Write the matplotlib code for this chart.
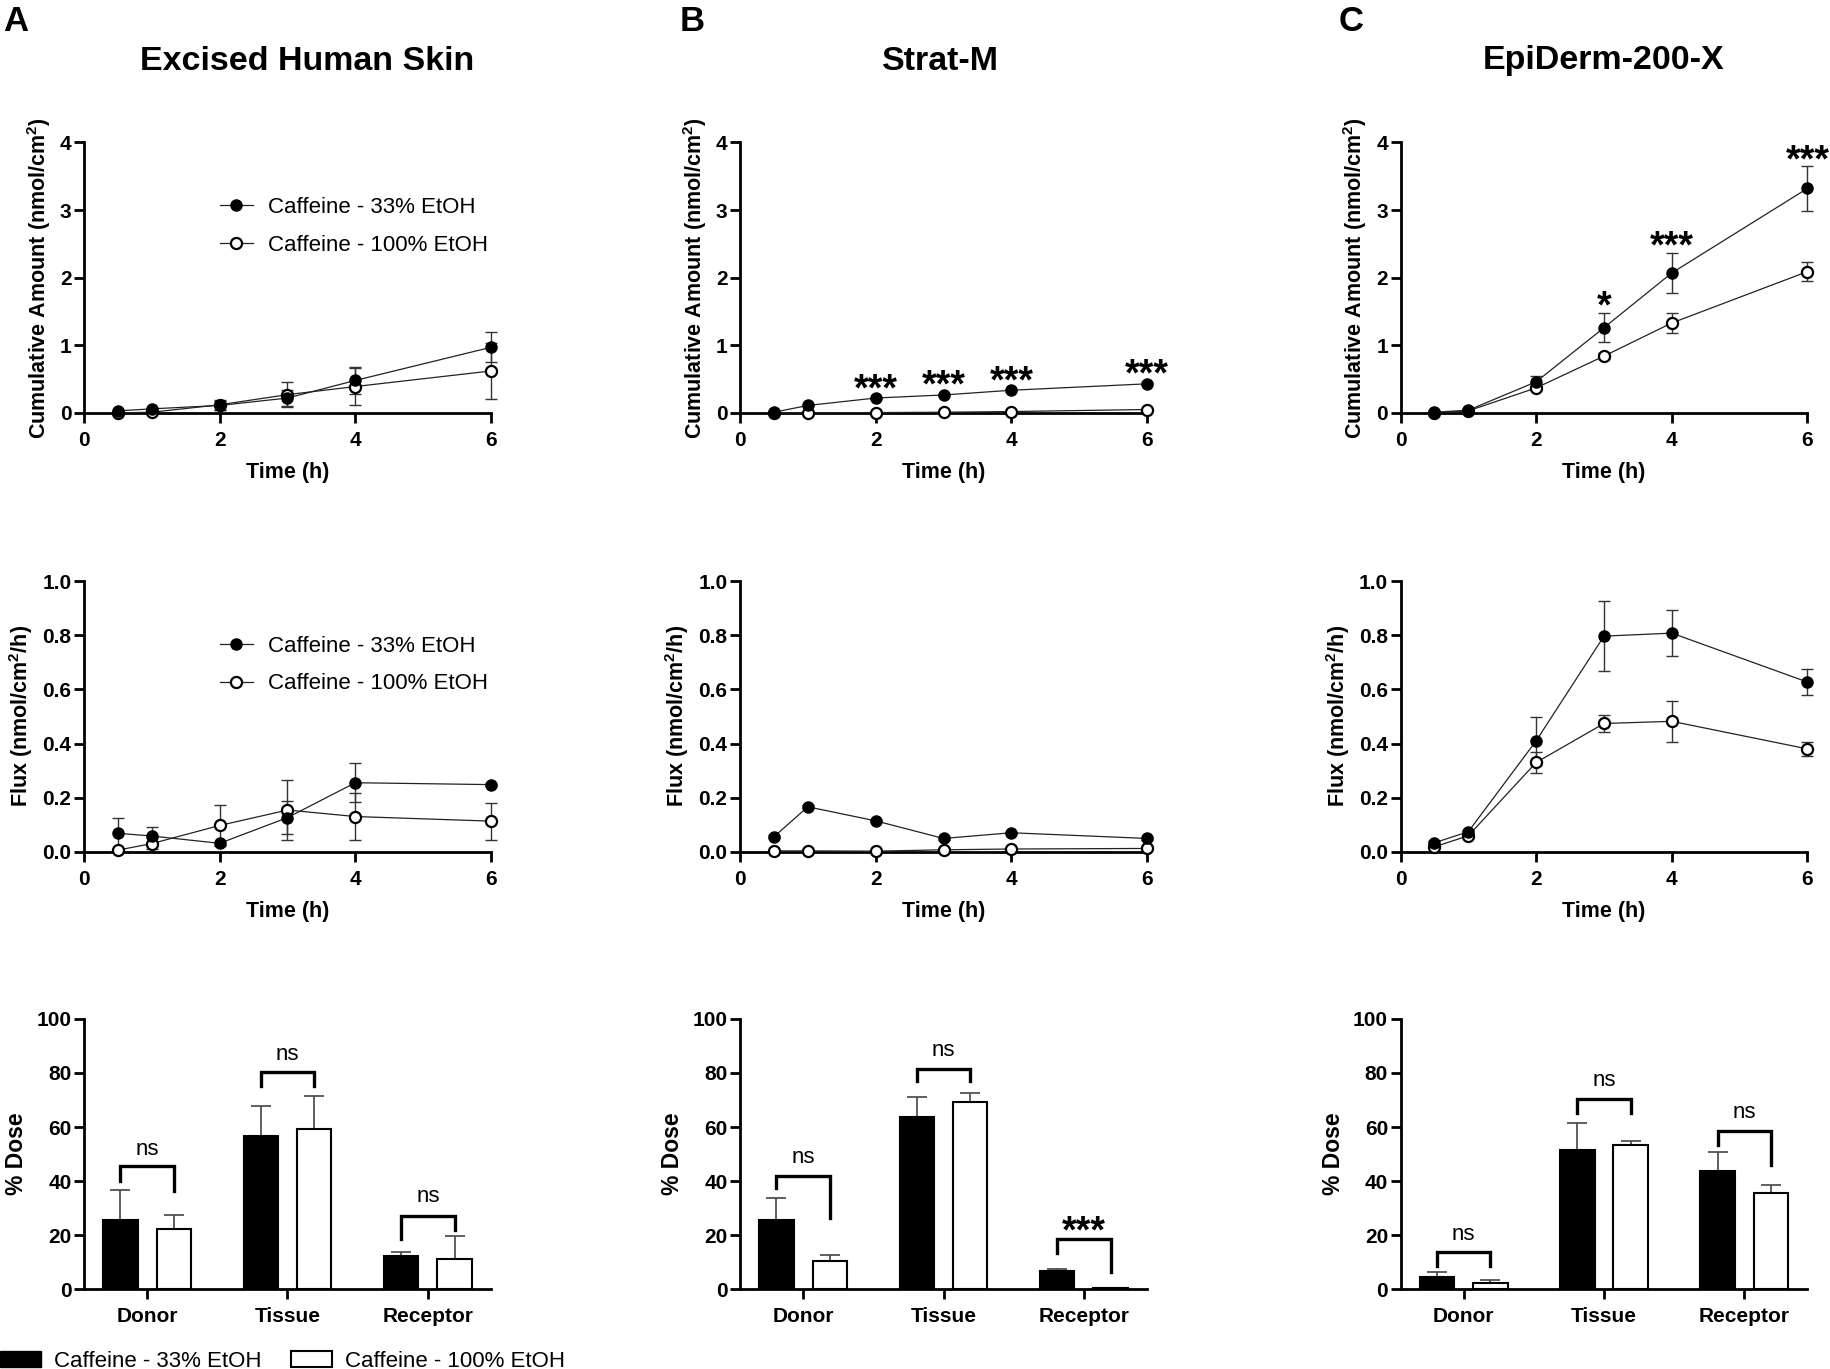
import matplotlib
matplotlib.use("Agg")
import matplotlib.pyplot as plt
from matplotlib.patches import Patch
from matplotlib.lines import Line2D

plt.rcParams['font.family'] = ['Liberation Sans', 'DejaVu Sans']
plt.rcParams['mathtext.fontset'] = 'custom'
plt.rcParams['mathtext.rm'] = 'Liberation Sans:bold'
plt.rcParams['mathtext.bf'] = 'Liberation Sans:bold'

# Data
time = [0.5, 1, 2, 3, 4, 6]
groups = ["Donor", "Tissue", "Receptor"]
label_33 = "Caffeine - 33% EtOH"
label_100 = "Caffeine - 100% EtOH"

# A - Excised Human Skin
a_cum_33 = [0.03, 0.06, 0.11, 0.22, 0.48, 0.97]
a_cum_33_err = [0.01, 0.01, 0.06, 0.12, 0.20, 0.22]
a_cum_100 = [0.0, 0.01, 0.12, 0.27, 0.39, 0.62]
a_cum_100_err = [0.01, 0.01, 0.07, 0.19, 0.27, 0.42]
a_flux_33 = [0.068, 0.058, 0.031, 0.126, 0.255, 0.248]
a_flux_33_err = [0.057, 0.032, 0.005, 0.06, 0.073, 0.005]
a_flux_100 = [0.006, 0.03, 0.097, 0.154, 0.13, 0.113]
a_flux_100_err = [0.005, 0.02, 0.076, 0.11, 0.087, 0.068]
a_dose_33 = [25.6, 56.6, 12.4]
a_dose_33_err = [11.1, 11.1, 1.5]
a_dose_100 = [22.4, 59.3, 11.3]
a_dose_100_err = [5.0, 12.3, 8.5]
# bracket: top, left leg end, right leg end, label y, label
a_brackets = [(45.5, 40, 36.3, 52, "ns"), (80.2, 75.3, 75.3, 87, "ns"), (27, 18.8, 22, 34.4, "ns")]
a_stars = []

# B - Strat-M
b_cum_33 = [0.01, 0.11, 0.22, 0.265, 0.335, 0.43]
b_cum_33_err = [0.005, 0.01, 0.02, 0.015, 0.02, 0.02]
b_cum_100 = [0.0, 0.0, 0.005, 0.01, 0.02, 0.05]
b_cum_100_err = [0.002, 0.002, 0.003, 0.003, 0.004, 0.005]
b_flux_33 = [0.055, 0.166, 0.114, 0.049, 0.07, 0.049]
b_flux_33_err = [0.005, 0.005, 0.005, 0.004, 0.004, 0.004]
b_flux_100 = [0.003, 0.003, 0.002, 0.007, 0.01, 0.012]
b_flux_100_err = [0.002, 0.002, 0.002, 0.002, 0.003, 0.003]
b_dose_33 = [25.6, 63.6, 6.8]
b_dose_33_err = [8.2, 7.5, 0.6]
b_dose_100 = [10.5, 69.3, 0.4]
b_dose_100_err = [2.4, 3.3, 0.1]
b_brackets = [(42, 37.5, 26.4, 48.8, "ns"), (81.4, 76.9, 76.9, 88.6, "ns"), (18.5, 13.5, 6.5, 25.2, "***")]
b_stars = [(2, 0.50, "***"), (3, 0.56, "***"), (4, 0.63, "***"), (6, 0.72, "***")]

# C - EpiDerm-200-X
c_cum_33 = [0.01, 0.04, 0.46, 1.26, 2.07, 3.32]
c_cum_33_err = [0.01, 0.02, 0.08, 0.21, 0.30, 0.33]
c_cum_100 = [0.0, 0.03, 0.37, 0.84, 1.33, 2.09]
c_cum_100_err = [0.005, 0.01, 0.03, 0.04, 0.15, 0.14]
c_flux_33 = [0.033, 0.074, 0.41, 0.797, 0.808, 0.627]
c_flux_33_err = [0.005, 0.008, 0.088, 0.13, 0.086, 0.047]
c_flux_100 = [0.018, 0.059, 0.33, 0.474, 0.482, 0.38]
c_flux_100_err = [0.004, 0.005, 0.04, 0.033, 0.075, 0.026]
c_dose_33 = [4.6, 51.7, 43.7]
c_dose_33_err = [1.9, 9.8, 7.0]
c_dose_100 = [2.3, 53.5, 35.5]
c_dose_100_err = [1.0, 1.5, 3.1]
c_brackets = [(13.9, 8.6, 8.6, 20.5, "ns"), (70.4, 65.2, 65.2, 77.5, "ns"), (58.4, 53.3, 46.1, 65.4, "ns")]
c_stars = [(3, 1.73, "*"), (4, 2.62, "***"), (6, 3.89, "***")]

titles = ["Excised Human Skin", "Strat-M", "EpiDerm-200-X"]
letters = ["A", "B", "C"]

W, H = 1830, 1369
fig = plt.figure(figsize=(W / 100, H / 100), dpi=100)

col_left = [84, 740, 1400.5]
col_width = 407
row_top = [142.4, 581.2, 1018.9]
row_h = 270.5
title_x = [307, 940, 1604]
letter_x = [3, 680, 1339]

TICK_FS = 15
LAB_FS = 15.5
STAR_FS = 27


def make_axes(col, row):
    l = col_left[col] / W
    b = 1 - (row_top[row] + row_h) / H
    ax = fig.add_axes([l, b, col_width / W, row_h / H])
    for s in ["top", "right"]:
        ax.spines[s].set_visible(False)
    for s in ["left", "bottom"]:
        ax.spines[s].set_linewidth(2.0)
    ax.tick_params(direction="out", length=7, width=2.0, labelsize=TICK_FS)
    ax.tick_params(axis="y", pad=2)
    ax.tick_params(axis="x", pad=6)
    return ax


def bold_ticks(ax):
    for t in ax.get_xticklabels() + ax.get_yticklabels():
        t.set_fontweight("bold")


def line_panel(ax, y33, e33, y100, e100, ylim, yticks, fmt, ylabel, stars, legend):
    ax.errorbar(time, y100, yerr=e100, fmt="none", ecolor="#333333", elinewidth=1,
                capsize=4.5, capthick=1, clip_on=False, zorder=2)
    ax.errorbar(time, y33, yerr=e33, fmt="none", ecolor="#333333", elinewidth=1,
                capsize=4.5, capthick=1, clip_on=False, zorder=2)
    ax.plot(time, y100, color="#222222", lw=0.9, marker="o", ms=8, mfc="white",
            mec="black", mew=1.6, clip_on=False, zorder=3)
    ax.plot(time, y33, color="#222222", lw=0.9, marker="o", ms=8, mfc="black",
            mec="black", clip_on=False, zorder=4)
    ax.set_xlim(0, 6)
    ax.set_xticks([0, 2, 4, 6])
    ax.set_ylim(*ylim)
    ax.set_yticks(yticks)
    ax.set_yticklabels([fmt.format(v) for v in yticks])
    bold_ticks(ax)
    ax.set_xlabel("Time (h)", fontsize=LAB_FS, fontweight="bold", labelpad=9)
    ax.set_ylabel(ylabel, fontsize=LAB_FS, fontweight="bold", labelpad=5)
    for x, y, s in stars:
        ax.annotate(s, (x, y), xytext=(0, -0.58 * STAR_FS), textcoords="offset points",
                    ha="center", va="baseline", fontsize=STAR_FS, fontweight="bold",
                    annotation_clip=False)
    if legend:
        h33 = Line2D([], [], color="#222222", lw=0.9, marker="o", ms=8, mfc="black", mec="black")
        h100 = Line2D([], [], color="#222222", lw=0.9, marker="o", ms=8, mfc="white",
                      mec="black", mew=1.6)
        ax.legend([h33, h100], [label_33, label_100], loc="center left",
                  bbox_to_anchor=(0.335, 0.69), frameon=False, fontsize=16,
                  handlelength=1.45, handletextpad=0.7, labelspacing=0.75,
                  borderpad=0, borderaxespad=0)


def bar_panel(ax, y33, e33, y100, e100, brackets):
    xs = list(range(len(groups)))
    off, bw = 0.19, 0.245
    x33 = [x - off for x in xs]
    x100 = [x + off for x in xs]
    ax.bar(x33, y33, width=bw, color="black", edgecolor="black", linewidth=1.5, zorder=2)
    ax.bar(x100, y100, width=bw, color="white", edgecolor="black", linewidth=1.5, zorder=2)
    ax.errorbar(x33, y33, yerr=[[0] * len(y33), e33], fmt="none", ecolor="#444444",
                elinewidth=1.2, capsize=7, capthick=1.2, zorder=1)
    ax.errorbar(x100, y100, yerr=[[0] * len(y100), e100], fmt="none", ecolor="#444444",
                elinewidth=1.2, capsize=7, capthick=1.2, zorder=1)
    for i, (top, l_end, r_end, ly, txt) in enumerate(brackets):
        ax.plot([x33[i], x33[i], x100[i], x100[i]], [l_end, top, top, r_end],
                color="black", lw=2.4, solid_joinstyle="miter", zorder=3)
        if txt == "ns":
            fs = 16
            ax.annotate(txt, ((x33[i] + x100[i]) / 2, ly), xytext=(0, -0.26 * fs),
                        textcoords="offset points", ha="center", va="baseline", fontsize=fs)
        else:
            ax.annotate(txt, ((x33[i] + x100[i]) / 2, ly), xytext=(0, -0.58 * STAR_FS),
                        textcoords="offset points", ha="center", va="baseline",
                        fontsize=STAR_FS, fontweight="bold")
    ax.set_xlim(-0.45, 2.45)
    ax.set_xticks(xs)
    ax.set_xticklabels(groups)
    ax.set_ylim(0, 100)
    ax.set_yticks([0, 20, 40, 60, 80, 100])
    bold_ticks(ax)
    ax.set_ylabel("% Dose", fontsize=LAB_FS + 1, fontweight="bold", labelpad=6)


cum_label = r"Cumulative Amount (nmol/cm$^{2}$)"
flux_label = r"Flux (nmol/cm$^{2}$/h)"

panels = [
    (a_cum_33, a_cum_33_err, a_cum_100, a_cum_100_err, a_flux_33, a_flux_33_err,
     a_flux_100, a_flux_100_err, a_dose_33, a_dose_33_err, a_dose_100, a_dose_100_err,
     a_brackets, a_stars),
    (b_cum_33, b_cum_33_err, b_cum_100, b_cum_100_err, b_flux_33, b_flux_33_err,
     b_flux_100, b_flux_100_err, b_dose_33, b_dose_33_err, b_dose_100, b_dose_100_err,
     b_brackets, b_stars),
    (c_cum_33, c_cum_33_err, c_cum_100, c_cum_100_err, c_flux_33, c_flux_33_err,
     c_flux_100, c_flux_100_err, c_dose_33, c_dose_33_err, c_dose_100, c_dose_100_err,
     c_brackets, c_stars),
]

for col, p in enumerate(panels):
    (cum33, cum33e, cum100, cum100e, fl33, fl33e, fl100, fl100e,
     d33, d33e, d100, d100e, brk, stars) = p
    ax1 = make_axes(col, 0)
    line_panel(ax1, cum33, cum33e, cum100, cum100e, (0, 4), [0, 1, 2, 3, 4], "{:g}",
               cum_label, stars, legend=(col == 0))
    ax2 = make_axes(col, 1)
    line_panel(ax2, fl33, fl33e, fl100, fl100e, (0, 1), [0, 0.2, 0.4, 0.6, 0.8, 1.0],
               "{:.1f}", flux_label, [], legend=(col == 0))
    ax3 = make_axes(col, 2)
    bar_panel(ax3, d33, d33e, d100, d100e, brk)

    fig.text(title_x[col] / W, 1 - 61 / H, titles[col], ha="center", va="center",
             fontsize=24.5, fontweight="bold")
    fig.text(letter_x[col] / W, 1 - 5 / H, letters[col], ha="left", va="top",
             fontsize=25, fontweight="bold")

fig.legend([Patch(facecolor="black", edgecolor="black"),
            Patch(facecolor="white", edgecolor="black", linewidth=1.5)],
           [label_33, label_100], loc="lower left", bbox_to_anchor=(0.0, -0.002),
           ncol=2, frameon=False, fontsize=16, handlelength=1.85, handleheight=0.7,
           handletextpad=0.6, columnspacing=1.3, borderpad=0, borderaxespad=0)

fig.savefig("out.png", dpi=100)
